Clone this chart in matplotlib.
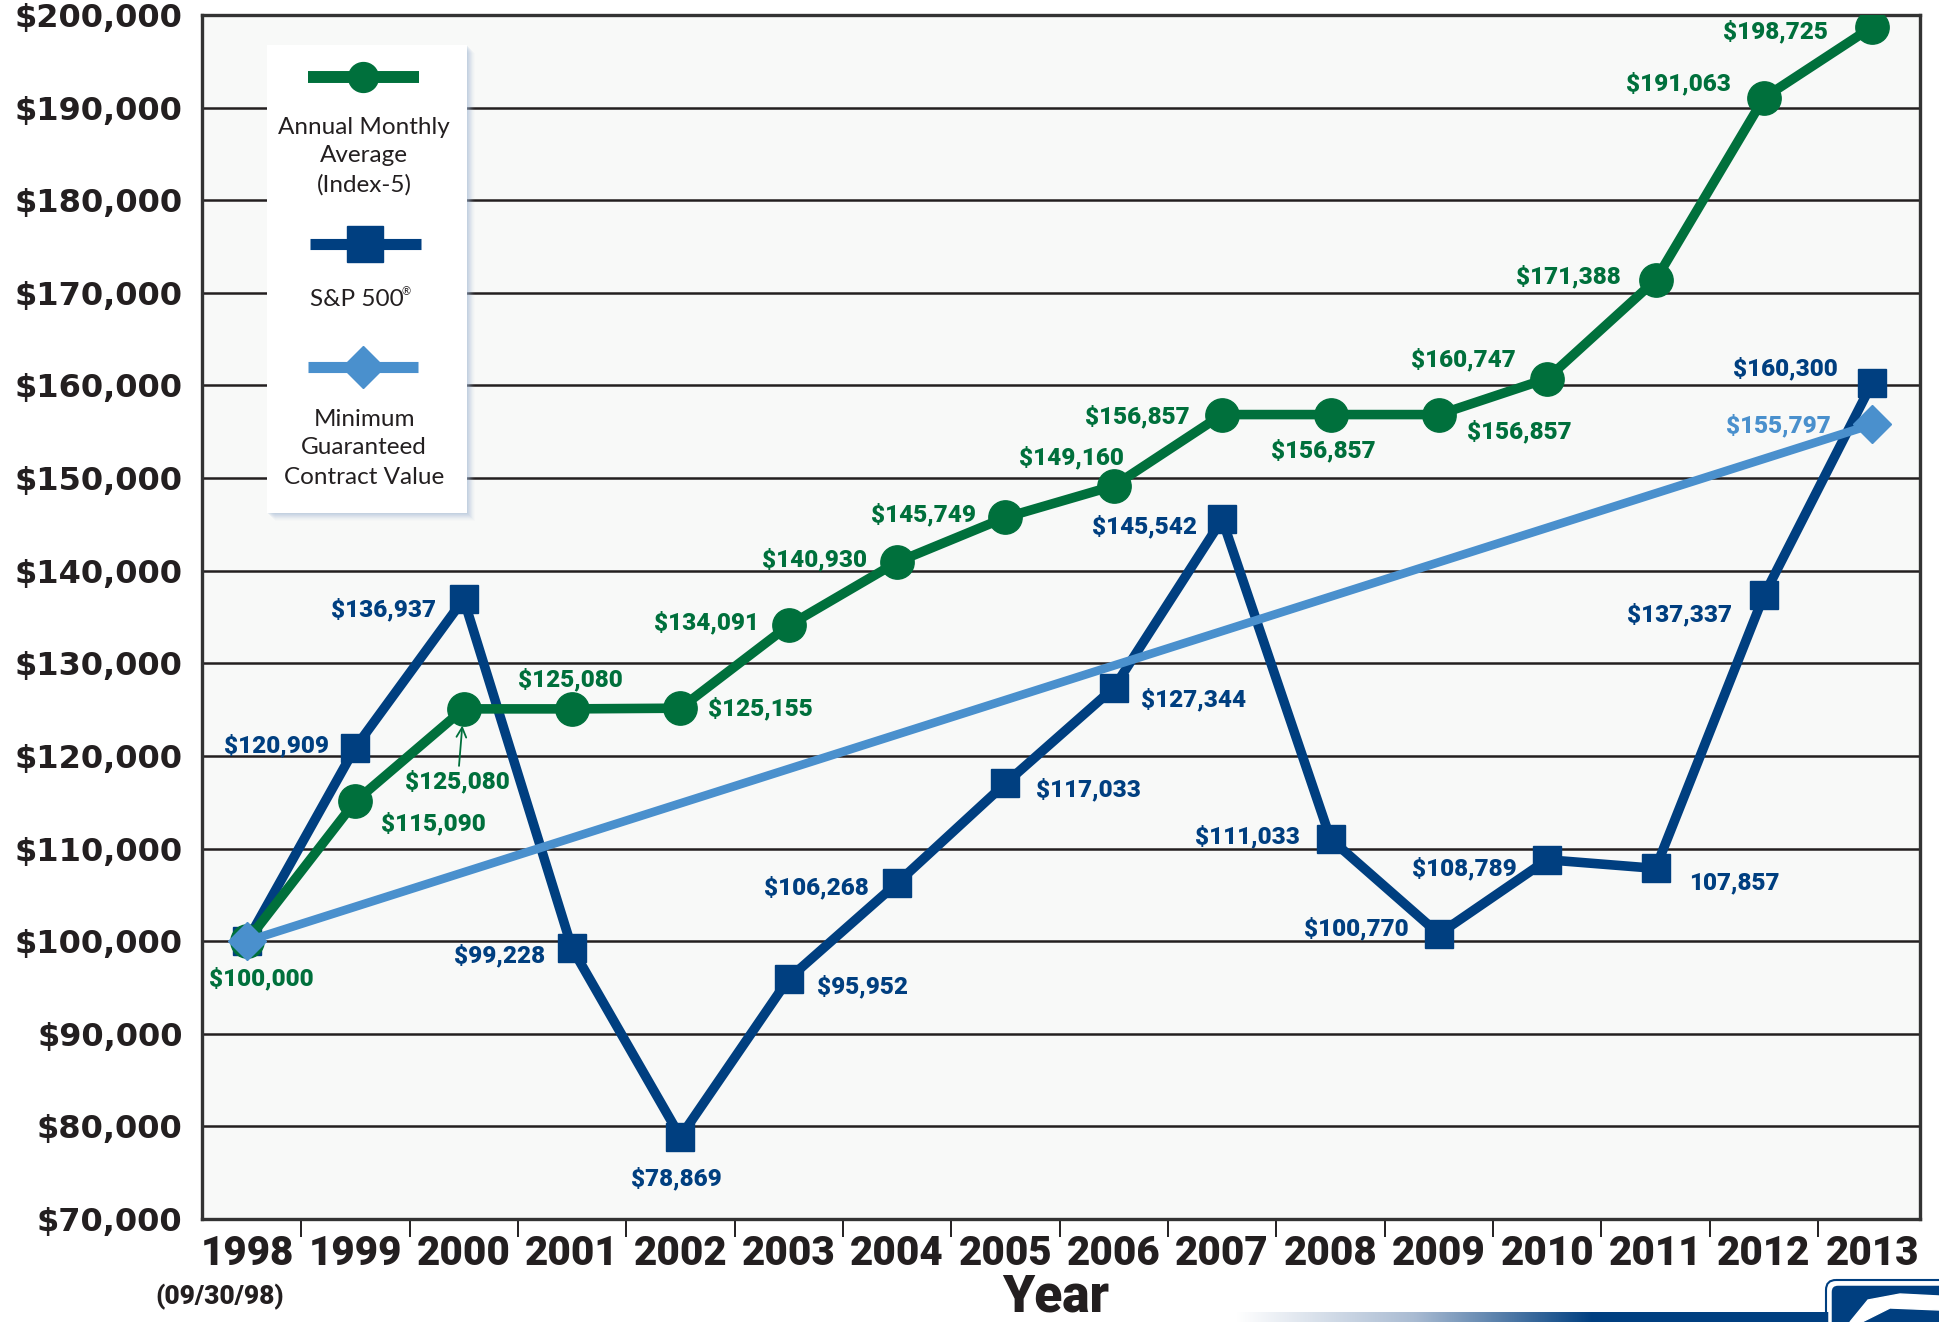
import matplotlib.pyplot as plt
import numpy as np
from matplotlib.colors import LinearSegmentedColormap
from matplotlib.patches import FancyBboxPatch, Rectangle

# values
years = list(range(1998, 2014))
year_labels = [str(y) for y in years]
index5 = [100000, 115090, 125080, 125080, 125155, 134091, 140930, 145749,
          149160, 156857, 156857, 156857, 160747, 171388, 191063, 198725]
sp500 = [100000, 120909, 136937, 99228, 78869, 95952, 106268, 117033,
         127344, 145542, 111033, 100770, 108789, 107857, 137337, 160300]
guar_years = [1998, 2013]
guaranteed = [100000, 155797]
y_ticks = list(range(70000, 200001, 10000))

GREEN = "#00703c"
NAVY = "#003f80"
LIGHT = "#4a90cd"
INK = "#231f20"

# label offsets in pixels (x, y-up) from each point
green_off = [(14, -37), (78, -22), (-6, -73), (-2, 29), (80, 0), (-82, 3),
             (-83, 3), (-82, 3), (-42, 28), (-85, -2), (-7, -36), (80, -17),
             (-84, 19), (-87, 3), (-86, 14), (-97, -5)]
sp_off = [None, (-79, 2), (-80, -11), (-72, -7), (-4, -42), (74, -8), (-81, -4),
          (83, -6), (80, -12), (-78, -7), (-83, 2), (-83, 5), (-83, -9), (79, -14),
          (-84, -19), (-87, 14)]
sp_no_dollar = {2011}

W, H = 1939, 1322
fig = plt.figure(figsize=(W / 100, H / 100), dpi=100)
fig.patch.set_facecolor("white")

ax = fig.add_axes([202 / W, 1 - 1219 / H, (1920 - 202) / W, (1219 - 15) / H])
ax.set_facecolor("#f8f9f8")
ax.set_xlim(1998 - 0.415, 2013 + 0.44)
ax.set_ylim(70000, 200000)

for s in ax.spines.values():
    s.set_color("#333333")
    s.set_linewidth(2.4)

ax.set_yticks(y_ticks, labels=[f"${v:,}" for v in y_ticks])
ax.tick_params(axis="y", length=0, pad=14, labelcolor=INK)
for t in ax.get_yticklabels():
    t.set_fontfamily(["DejaVu Sans"])
    t.set_fontweight("bold")
    t.set_fontsize(23)

ax.set_xticks(years, labels=year_labels)
ax.set_xticks([y + 0.5 for y in years[:-1]], minor=True)
ax.tick_params(axis="x", which="major", length=0, pad=11, labelcolor=INK)
ax.tick_params(axis="x", which="minor", length=13, width=1.4, color=INK, direction="out")
for t in ax.get_xticklabels():
    t.set_fontfamily(["Roboto", "DejaVu Sans"])
    t.set_fontweight("heavy")
    t.set_fontsize(29)

ax.yaxis.grid(True, color=INK, linewidth=1.8)
ax.set_axisbelow(True)

ax.plot(years, sp500, color=NAVY, lw=6.9, marker="s", ms=19.5, zorder=3,
        solid_joinstyle="miter")
ax.plot(years, index5, color=GREEN, lw=6.9, marker="o", ms=24, zorder=4)
ax.plot(guar_years, guaranteed, color=LIGHT, lw=6.2, marker="D", ms=19, zorder=5)

lab = dict(textcoords="offset pixels", ha="center", va="center",
           fontsize=17.5, fontweight="black", family=["Roboto", "DejaVu Sans"], zorder=6)

for i, (yr, v) in enumerate(zip(years, index5)):
    if yr == 2000:
        ax.annotate(f"${v:,}", (yr, v), xytext=green_off[i], color=GREEN,
                    arrowprops=dict(arrowstyle="->", color=GREEN, lw=1.3,
                                    shrinkA=1, shrinkB=12),
                    **lab)
    else:
        ax.annotate(f"${v:,}", (yr, v), xytext=green_off[i], color=GREEN, **lab)

for i, (yr, v) in enumerate(zip(years, sp500)):
    if sp_off[i] is None:
        continue
    txt = f"{v:,}" if yr in sp_no_dollar else f"${v:,}"
    ax.annotate(txt, (yr, v), xytext=sp_off[i], color=NAVY, **lab)

ax.annotate(f"${guaranteed[-1]:,}", (guar_years[-1], guaranteed[-1]),
            xytext=(-94, -1), color=LIGHT, **lab)

# overlay in pixel coordinates: legend box, footer texts, decoration
ov = fig.add_axes([0, 0, 1, 1], zorder=10)
ov.patch.set_alpha(0)
ov.axis("off")

for k, a in zip(range(1, 9), np.linspace(0.16, 0.03, 8)):
    ov.add_patch(Rectangle((267 + k, 45 + k), 200, 468, facecolor="#9fb6d4",
                           edgecolor="none", alpha=a))
ov.add_patch(Rectangle((267, 45), 200, 468, facecolor="white", edgecolor="none"))

ov.plot([308, 419], [77, 77], color=GREEN, lw=8.6, solid_capstyle="butt")
ov.plot([363], [77], color=GREEN, marker="o", ms=21.5)
ov.plot([310, 421], [244, 244], color=NAVY, lw=8, solid_capstyle="butt")
ov.plot([365], [244], color=NAVY, marker="s", ms=26)
ov.plot([308, 418], [367, 367], color=LIGHT, lw=8, solid_capstyle="butt")
ov.plot([363], [367], color=LIGHT, marker="D", ms=21)

leg = dict(ha="center", va="center", fontsize=17.5, color=INK, family=["Lato", "DejaVu Sans"])
for yy, s in zip([127, 156, 185], ["Annual Monthly", "Average", "(Index-5)"]):
    ov.text(364, yy, s, **leg)
ov.text(357, 300, "S&P 500", **leg)
ov.text(406, 292, "®", ha="center", va="center", fontsize=8, color=INK,
        family=["Lato", "DejaVu Sans"])
for yy, s in zip([419, 448, 477], ["Minimum", "Guaranteed", "Contract Value"]):
    ov.text(364, yy, s, **leg)

ov.text(220, 1297, "(09/30/98)", ha="center", va="center", fontsize=19,
        fontweight="heavy", color=INK, family=["Roboto", "DejaVu Sans"])
ov.text(1056, 1311, "Year", ha="center", va="baseline", fontsize=37,
        fontweight="heavy", color=INK, family=["Roboto", "DejaVu Sans"])

grad = LinearSegmentedColormap.from_list(
    "bar", [(0, "#ffffff"), (0.3, "#a9bbd2"), (0.6, NAVY), (1, NAVY)])
ov.imshow(np.linspace(0, 1, 256)[None, :], cmap=grad, aspect="auto",
          extent=(1236, 1830, 1322, 1312), zorder=1)
ov.add_patch(FancyBboxPatch((1830, 1284), 140, 60, boxstyle="round,pad=0,rounding_size=8",
                            facecolor=NAVY, edgecolor="white", lw=2.5, zorder=2))
ov.add_patch(FancyBboxPatch((1826, 1280), 148, 68, boxstyle="round,pad=0,rounding_size=10",
                            facecolor="none", edgecolor=NAVY, lw=1.5, zorder=2))
ov.fill([1850, 1868, 1900, 1939, 1939, 1890, 1862], [1322, 1300, 1294, 1296, 1310, 1308, 1322],
        color="white", zorder=3)

ov.set_xlim(0, W)
ov.set_ylim(H, 0)

fig.savefig("out.png", dpi=100)
